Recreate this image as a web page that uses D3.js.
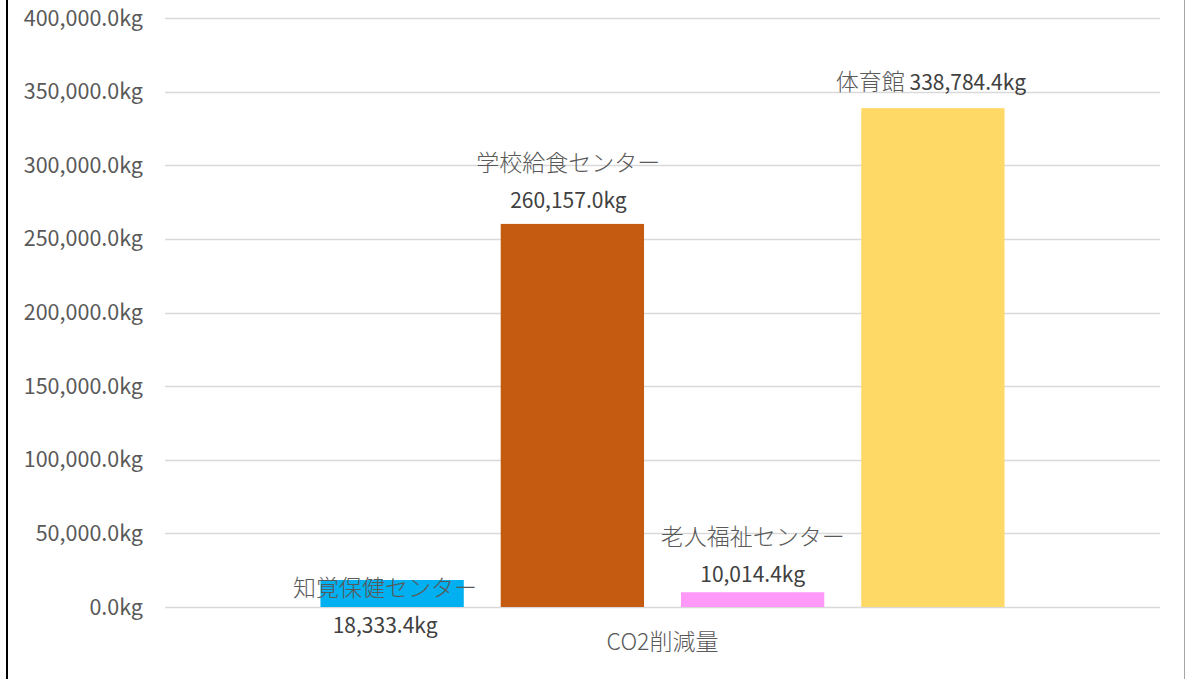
<meta charset="utf-8">
<style>
	body { margin: 0; background: #fff; }
	svg text { font-family: "Noto Sans CJK JP", "Noto Sans", sans-serif; }
</style>
<body>
<svg id="svg"></svg>
<script src="https://cdn.jsdelivr.net/npm/d3@7"></script>
<script>

// DATA
var categories = [ 'CO2削減量' ]
var seriesNames = [ '知覚保健センター', '学校給食センター', '老人福祉センター', '体育館' ]
var seriesValues = [ 18333.4, 260157.0, 10014.4, 338784.4 ]
var seriesColors = [ '#00b0f0', '#c55a11', '#ff99f9', '#ffd966' ]
var yTicks = [ 0, 50000, 100000, 150000, 200000, 250000, 300000, 350000, 400000 ]

// label placement (Excel put these wherever it liked)
// dy = offset of the name line from the bar top, inline = name and value on one line
var labelLayout = [
	{ dy: 8, inline: false },
	{ dy: -61, inline: false },
	{ dy: -55, inline: false },
	{ dy: -26, inline: true }
]

// CANVAS
var width = 1189
var height = 679

var svg = d3.select( '#svg' )
	.attr( 'width', width )
	.attr( 'height', height )

// frame
svg.append( 'line' )
	.attr( 'x1', 7 ).attr( 'x2', 7 )
	.attr( 'y1', 0 ).attr( 'y2', height )
	.attr( 'stroke', '#000' )
	.attr( 'stroke-width', 2 )
svg.append( 'line' )
	.attr( 'x1', 1184.5 ).attr( 'x2', 1184.5 )
	.attr( 'y1', 0 ).attr( 'y2', height )
	.attr( 'stroke', '#a6a6a6' )
	.attr( 'stroke-width', 1 )

// SCALES
var plot = { left: 165, right: 1160, top: 18, bottom: 607 }

var y = d3.scaleLinear()
	.domain([ 0, 400000 ])
	.range([ plot.bottom, plot.top ])

var x0 = d3.scaleBand()
	.domain( categories )
	.range([ plot.left, plot.right ])
	.paddingInner( 0 )
	.paddingOuter( 0.19 )

var x1 = d3.scaleBand()
	.domain( seriesNames )
	.range([ 0, x0.bandwidth() ])
	.paddingInner( 0.205 )
	.paddingOuter( 0.1025 )

var fmt = d => d3.format( ',.1f' )( d ) + 'kg'

// GRID
svg.append( 'g' )
	.selectAll( 'line' )
	.data( yTicks )
	.enter()
	.append( 'line' )
		.attr( 'x1', plot.left )
		.attr( 'x2', plot.right )
		.attr( 'y1', d => Math.round( y( d )) + 0.5 )
		.attr( 'y2', d => Math.round( y( d )) + 0.5 )
		.attr( 'stroke', '#d9d9d9' )
		.attr( 'stroke-width', 1.5 )

// Y axis labels
svg.append( 'g' )
	.selectAll( 'text' )
	.data( yTicks )
	.enter()
	.append( 'text' )
		.attr( 'x', 143 )
		.attr( 'y', d => y( d ))
		.attr( 'dy', '0.35em' )
		.attr( 'text-anchor', 'end' )
		.style( 'font-size', '21.5px' )
		.style( 'fill', '#595959' )
		.text( fmt )

// BARS
var rows = seriesNames.map( ( name, i ) => ({
	cat: categories[ 0 ],
	name: name,
	value: seriesValues[ i ],
	color: seriesColors[ i ],
	layout: labelLayout[ i ]
}))

svg.append( 'g' )
	.selectAll( 'rect' )
	.data( rows )
	.enter()
	.append( 'rect' )
		.attr( 'x', d => x0( d.cat ) + x1( d.name ))
		.attr( 'y', d => y( d.value ))
		.attr( 'width', x1.bandwidth() )
		.attr( 'height', d => y( 0 ) - y( d.value ))
		.attr( 'fill', d => d.color )

// LABELS
var labels = svg.append( 'g' )
	.selectAll( 'g' )
	.data( rows )
	.enter()
	.append( 'text' )
		.attr( 'text-anchor', 'middle' )
		.attr( 'transform', d => {
			let cx = x0( d.cat ) + x1( d.name ) + x1.bandwidth() / 2
			if( d.name == seriesNames[ 0 ] ) cx -= 7
			if( d.name == seriesNames[ 1 ] ) cx -= 4
			if( d.name == seriesNames[ 3 ] ) cx -= 2
			return 'translate(' + cx + ',' + ( y( d.value ) + d.layout.dy ) + ')'
		})

labels.append( 'tspan' )
	.attr( 'x', 0 )
	.attr( 'dy', '0.35em' )
	.style( 'font-size', '23px' )
	.style( 'font-weight', 300 )
	.style( 'fill', '#595959' )
	.text( d => d.name )

labels.append( 'tspan' )
	.attr( 'x', d => d.layout.inline ? null : 0 )
	.attr( 'dy', d => d.layout.inline ? 0 : 37 )
	.style( 'font-size', '21px' )
	.style( 'fill', '#404040' )
	.text( d => ( d.layout.inline ? ' ' : '' ) + fmt( d.value ))

// category axis label
svg.append( 'text' )
	.attr( 'x', x0( categories[ 0 ] ) + x0.bandwidth() / 2 )
	.attr( 'y', 642 )
	.attr( 'dy', '0.35em' )
	.attr( 'text-anchor', 'middle' )
	.style( 'font-size', '23px' )
	.style( 'font-weight', 300 )
	.style( 'fill', '#595959' )
	.text( categories[ 0 ] )

</script>
</body>
